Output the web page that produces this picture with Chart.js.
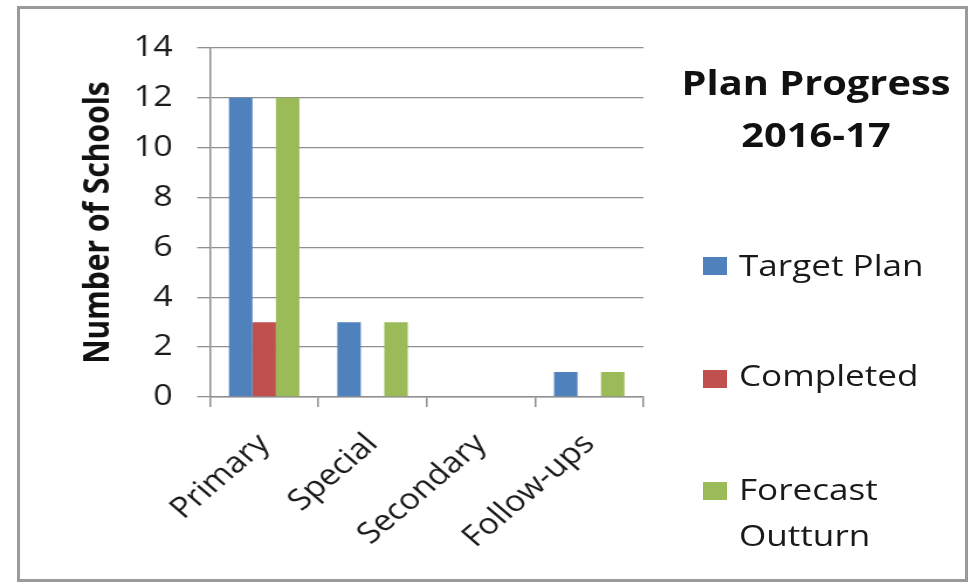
<!DOCTYPE html>
<html>
<head>
<meta charset="utf-8">
<script src="https://cdn.jsdelivr.net/npm/chart.js@4.4.1/dist/chart.umd.min.js"></script>
<style>
  html, body { margin: 0; padding: 0; background: #fff; }
  #wrap { position: relative; width: 971px; height: 585px; overflow: hidden; background: #fff; }
  #frame { position: absolute; left: 17px; top: 6px; width: 945px; height: 570px; border: 3px solid #9a9a9a; pointer-events: none; }
  canvas { position: absolute; left: 0; top: 0; }
  .stretch { position: absolute; white-space: nowrap; font-family: "Open Sans", sans-serif; transform: scaleX(1.17); }
  #legendTitle { left: 666px; width: 300px; top: 56px; text-align: center; font-weight: bold; font-size: 34px; line-height: 52px; color: #111; transform-origin: 50% 0; }
  .txt { left: 739px; font-size: 30px; line-height: 46px; color: #1a1a1a; transform-origin: 0 0; white-space: normal; width: 160px; }
  .sw { position: absolute; left: 703px; width: 24px; height: 18px; }
</style>
</head>
<body>
<div id="wrap">
  <canvas id="c" width="830" height="585" style="width:971px;height:585px;"></canvas>
  <div id="legendTitle" class="stretch"></div>
  <div id="legend"></div>
  <div id="frame"></div>
</div>
<script>
const categories = ["Primary", "Special", "Secondary", "Follow-ups"];
const seriesNames = ["Target Plan", "Completed", "Forecast Outturn"];
const targetPlan = [12, 3, 0, 1];
const completed = [3, 0, 0, 0];
const forecastOutturn = [12, 3, 0, 1];
const seriesColors = ["#4F81BD", "#C0504D", "#9BBB59"];
const yTicks = [0, 2, 4, 6, 8, 10, 12, 14];
const chartTitleLines = ["Plan Progress", "2016-17"];
const yAxisTitle = "Number of Schools";

const seriesValues = [targetPlan, completed, forecastOutturn];

const FONT = "'Open Sans', sans-serif";
const AXIS = '#8f8f8f';

new Chart(document.getElementById('c'), {
  type: 'bar',
  data: {
    labels: categories,
    datasets: seriesNames.map((n, i) => ({
      label: n,
      data: seriesValues[i],
      backgroundColor: seriesColors[i],
      borderWidth: 0,
      categoryPercentage: 0.65,
      barPercentage: 1.0
    }))
  },
  options: {
    responsive: false,
    maintainAspectRatio: false,
    animation: false,
    devicePixelRatio: 1,
    layout: { padding: { left: 0, right: 280, top: 48, bottom: 0 } },
    plugins: { legend: { display: false }, tooltip: { enabled: false }, title: { display: false } },
    scales: {
      x: {
        offset: true,
        afterFit: s => { s.height = 188; },
        border: { display: true, color: AXIS, width: 1.5 },
        grid: { offset: true, drawOnChartArea: false, drawTicks: true, tickLength: 10, color: AXIS, lineWidth: 1.5 },
        ticks: { color: '#1a1a1a', font: { family: FONT, size: 29 }, minRotation: 45, maxRotation: 45, padding: 20 }
      },
      y: {
        min: 0, max: 14,
        afterFit: s => { s.width = 179.5; },
        afterBuildTicks: s => { s.ticks = yTicks.map(v => ({ value: v })); },
        border: { display: true, color: AXIS, width: 1.5 },
        grid: { color: AXIS, lineWidth: 1.3, tickLength: 11 },
        ticks: { color: '#1a1a1a', font: { family: FONT, size: 29 }, padding: 21 },
        title: { display: true, text: yAxisTitle, color: '#111', font: { family: FONT, size: 30, weight: 'bold' }, padding: { top: 66 } }
      }
    }
  }
});

// legend built from the series arrays
document.getElementById('legendTitle').innerHTML = chartTitleLines.join('<br>');
const legendTextTops = [242, 352, 466];
const swatchTops = [257, 370, 482];
const lg = document.getElementById('legend');
seriesNames.forEach((n, i) => {
  const sw = document.createElement('div');
  sw.className = 'sw';
  sw.style.background = seriesColors[i];
  sw.style.top = swatchTops[i] + 'px';
  const t = document.createElement('div');
  t.className = 'stretch txt';
  t.style.top = legendTextTops[i] + 'px';
  t.textContent = n;
  lg.appendChild(sw);
  lg.appendChild(t);
});
</script>
</body>
</html>
